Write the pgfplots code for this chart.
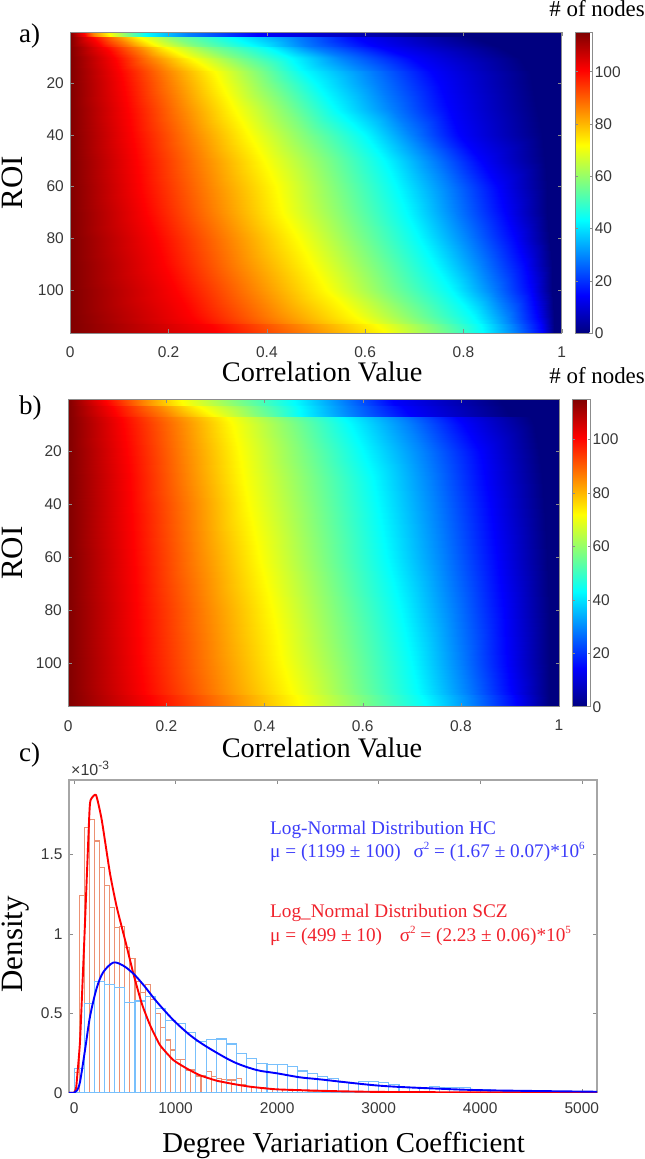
\documentclass[border=0pt]{standalone}
\usepackage{fontspec}
\setmainfont{Liberation Serif}
\newfontfamily\sansf{Liberation Sans}
\usepackage{pgfplots}
\pgfplotsset{compat=1.18}
\usepackage{pgfplotstable}
\definecolor{axgray}{gray}{0.55}
\definecolor{ticktext}{gray}{0.22}
\definecolor{histred}{RGB}{236,145,115}
\definecolor{histblue}{RGB}{120,192,252}
\definecolor{annblue}{RGB}{60,60,250}
\definecolor{annred}{RGB}{240,35,45}
\newcommand{\tickf}{\sansf\fontsize{15.5}{18}\selectfont}
\newcommand{\labf}{\fontsize{28.3}{32}\selectfont}
\newcommand{\ylabf}{\fontsize{31}{34}\selectfont}
\newcommand{\supn}[1]{\raisebox{0.42em}{\fontsize{11}{12}\selectfont #1}}
\pgfplotstableread{
x y v
0 0.5 115
.027 0.5 100.6
.047 0.5 86
.078 0.5 72
.115 0.5 57.5
.155 0.5 43
.24 0.5 28.75
.38 0.5 14.4
.72 0.5 0
1 0.5 0
0 2.2 115
.03 2.2 100.6
.05 2.2 86
.08 2.2 72
.117 2.2 57.5
.157 2.2 43
.24 2.2 28.75
.38 2.2 14.4
.72 2.2 0
1 2.2 0
0 2.4 115
.045 2.4 100.6
.09 2.4 86
.14 2.4 72
.21 2.4 57.5
.33 2.4 43
.46 2.4 28.75
.58 2.4 14.4
.82 2.4 0
1 2.4 0
0 6 115
.065 6 100.6
.125 6 86
.18 6 72
.26 6 57.5
.38 6 43
.48 6 28.75
.62 6 14.4
.87 6 0
1 6 0
0 6.2 115
.07 6.2 100.6
.135 6.2 86
.195 6.2 72
.28 6.2 57.5
.40 6.2 43
.49 6.2 28.75
.63 6.2 14.4
.875 6.2 0
1 6.2 0
0 10 115
.088 10 100.6
.16 10 86
.235 10 72
.33 10 57.5
.445 10 43
.55 10 28.75
.69 10 14.4
.91 10 0
1 10 0
0 10.2 115
.09 10.2 100.6
.165 10.2 86
.245 10.2 72
.34 10.2 57.5
.45 10.2 43
.555 10.2 28.75
.695 10.2 14.4
.915 10.2 0
1 10.2 0
0 15 115
.1 15 100.6
.19 15 86
.285 15 72
.38 15 57.5
.47 15 43
.60 15 28.75
.73 15 14.4
.93 15 0
1 15 0
0 15.5 115
.102 15.5 100.6
.195 15.5 86
.292 15.5 72
.385 15.5 57.5
.475 15.5 43
.61 15.5 28.75
.735 15.5 14.4
.935 15.5 0
1 15.5 0
0 20 115
.108 20 100.6
.205 20 86
.305 20 72
.40 20 57.5
.50 20 43
.625 20 28.75
.75 20 14.4
.94 20 0
1 20 0
0 30 115
.118 30 100.6
.225 30 86
.333 30 72
.44 30 57.5
.54 30 43
.655 30 28.75
.77 30 14.4
.95 30 0
1 30 0
0 40 115
.125 40 100.6
.245 40 86
.363 40 72
.48 40 57.5
.60 40 43
.695 40 28.75
.79 40 14.4
.96 40 0
1 40 0
0 50 115
.135 50 100.6
.265 50 86
.394 50 72
.52 50 57.5
.64 50 43
.74 50 28.75
.835 50 14.4
.965 50 0
1 50 0
0 60 115
.142 60 100.6
.28 60 86
.418 60 72
.54 60 57.5
.665 60 43
.77 60 28.75
.87 60 14.4
.97 60 0
1 60 0
0 70 115
.155 70 100.6
.295 70 86
.43 70 72
.56 70 57.5
.685 70 43
.785 70 28.75
.885 70 14.4
.97 70 0
1 70 0
0 80 115
.175 80 100.6
.32 80 86
.462 80 72
.585 80 57.5
.71 80 43
.81 80 28.75
.905 80 14.4
.975 80 0
1 80 0
0 90 115
.19 90 100.6
.34 90 86
.49 90 72
.615 90 57.5
.74 90 43
.835 90 28.75
.925 90 14.4
.98 90 0
1 90 0
0 100 115
.215 100 100.6
.37 100 86
.52 100 72
.645 100 57.5
.775 100 43
.86 100 28.75
.937 100 14.4
.98 100 0
1 100 0
0 110 115
.245 110 100.6
.41 110 86
.577 110 72
.70 110 57.5
.82 110 43
.89 110 28.75
.95 110 14.4
.985 110 0
1 110 0
0 112.5 115
.262 112.5 100.6
.43 112.5 86
.60 112.5 72
.72 112.5 57.5
.83 112.5 43
.895 112.5 28.75
.955 112.5 14.4
.985 112.5 0
1 112.5 0
0 113 115
.285 113 100.6
.46 113 86
.62 113 72
.735 113 57.5
.835 113 43
.90 113 28.75
.958 113 14.4
.985 113 0
1 113 0
0 116.5 115
.30 116.5 100.6
.48 116.5 86
.64 116.5 72
.75 116.5 57.5
.84 116.5 43
.905 116.5 28.75
.96 116.5 14.4
.985 116.5 0
1 116.5 0
}\tableA
\pgfplotstableread{
x y v
0 0.5 115
.075 0.5 100.6
.15 0.5 86
.228 0.5 72
.34 0.5 57.5
.46 0.5 43
.56 0.5 28.75
.66 0.5 14.4
.88 0.5 0
1 0.5 0
0 3 115
.08 3 100.6
.155 3 86
.235 3 72
.35 3 57.5
.465 3 43
.565 3 28.75
.665 3 14.4
.885 3 0
1 3 0
0 3.2 115
.09 3.2 100.6
.18 3.2 86
.265 3.2 72
.37 3.2 57.5
.47 3.2 43
.57 3.2 28.75
.68 3.2 14.4
.89 3.2 0
1 3.2 0
0 7 115
.10 7 100.6
.205 7 86
.30 7 72
.39 7 57.5
.475 7 43
.58 7 28.75
.70 7 14.4
.90 7 0
1 7 0
0 7.3 115
.108 7.3 100.6
.215 7.3 86
.323 7.3 72
.44 7.3 57.5
.56 7.3 43
.68 7.3 28.75
.79 7.3 14.4
.94 7.3 0
1 7.3 0
0 10 115
.112 10 100.6
.225 10 86
.333 10 72
.455 10 57.5
.575 10 43
.695 10 28.75
.805 10 14.4
.95 10 0
1 10 0
0 20 115
.119 20 100.6
.233 20 86
.347 20 72
.475 20 57.5
.60 20 43
.725 20 28.75
.84 20 14.4
.96 20 0
1 20 0
0 30 115
.125 30 100.6
.24 30 86
.357 30 72
.49 30 57.5
.62 30 43
.74 30 28.75
.85 30 14.4
.965 30 0
1 30 0
0 40 115
.128 40 100.6
.25 40 86
.367 40 72
.50 40 57.5
.632 40 43
.75 40 28.75
.86 40 14.4
.97 40 0
1 40 0
0 60 115
.133 60 100.6
.26 60 86
.388 60 72
.52 60 57.5
.65 60 43
.765 60 28.75
.873 60 14.4
.975 60 0
1 60 0
0 80 115
.14 80 100.6
.278 80 86
.415 80 72
.545 80 57.5
.677 80 43
.785 80 28.75
.887 80 14.4
.98 80 0
1 80 0
0 100 115
.146 100 100.6
.29 100 86
.435 100 72
.57 100 57.5
.70 100 43
.80 100 28.75
.894 100 14.4
.98 100 0
1 100 0
0 112 115
.155 112 100.6
.305 112 86
.455 112 72
.585 112 57.5
.715 112 43
.815 112 28.75
.905 112 14.4
.98 112 0
1 112 0
0 112.2 115
.165 112.2 100.6
.32 112.2 86
.465 112.2 72
.595 112.2 57.5
.72 112.2 43
.82 112.2 28.75
.91 112.2 14.4
.98 112.2 0
1 112.2 0
0 116.5 115
.173 116.5 100.6
.325 116.5 86
.473 116.5 72
.60 116.5 57.5
.73 116.5 43
.825 116.5 28.75
.914 116.5 14.4
.98 116.5 0
1 116.5 0
}\tableB
\pgfplotsset{
  /pgf/number format/assume math mode=true,
  heat/.style={
    scale only axis, y dir=reverse, xmin=0, xmax=1, ymin=0.5, ymax=116.5,
    xtick={0,0.2,0.4,0.6,0.8,1}, ytick={20,40,60,80,100},
    xticklabels={0,0.2,0.4,0.6,0.8,1},
    tick align=inside, major tick length=3.5pt, tick style={color=axgray, thin},
    axis line style={color=axgray, line width=0.7pt},
    tick label style={font=\tickf, text=ticktext},
    xticklabel style={yshift=-10pt}, yticklabel style={xshift=-3pt},
    xlabel={Correlation Value}, ylabel={ROI},
    xlabel style={font=\labf}, ylabel style={font=\ylabf},
    axis on top, colormap/jet, point meta min=0, point meta max=115,
    colorbar,
  },
  cbstyle/.style={
    width=17.3pt, at={(parent axis.north east)}, anchor=north west, xshift=#1,
    ytick={0,20,40,60,80,100},
    tick align=inside, major tick length=2.5pt,
    tick style={color=axgray, thin},
    axis line style={color=axgray, line width=0.6pt},
    yticklabel style={font=\tickf, text=ticktext, xshift=-1pt},
  },
}
\begin{document}
\begin{tikzpicture}
\path[use as bounding box] (0pt,0pt) rectangle (645pt,1159pt);

\begin{axis}[heat, at={(70.3pt,826pt)}, anchor=south west, width=491.4pt, height=300.5pt,
  xlabel style={at={(axis description cs:0.5126,-0.13)}, anchor=center},
  ylabel style={at={(axis description cs:-0.1176,0.5)}, anchor=center, rotate=0, inner sep=0pt},
  colorbar style={cbstyle=4.8pt}]
\addplot[surf, shader=interp, mesh/cols=10, mesh/ordering=x varies, point meta=\thisrow{v}] table[x=x,y=y] {\tableA};
\end{axis}

\begin{axis}[heat, at={(68.3pt,452.3pt)}, anchor=south west, width=490.7pt, height=307.4pt,
  xlabel style={at={(axis description cs:0.517,-0.134)}, anchor=center},
  ylabel style={at={(axis description cs:-0.1137,0.5)}, anchor=center, rotate=0, inner sep=0pt},
  colorbar style={cbstyle=5.2pt}]
\addplot[surf, shader=interp, mesh/cols=10, mesh/ordering=x varies, point meta=\thisrow{v}] table[x=x,y=y] {\tableB};
\end{axis}

\begin{axis}[scale only axis, at={(69pt,66.3pt)}, anchor=south west, width=528pt, height=312.7pt,
  xmin=-50, xmax=5150, ymin=0, ymax=1.97,
  xtick={0,1000,2000,3000,4000,5000}, ytick={0,0.5,1,1.5},
  yticklabels={0,0.5,1,1.5},
  /pgf/number format/1000 sep={}, scaled ticks=false,
  tick align=inside, major tick length=4pt, tick style={color=axgray, thin},
  axis line style={color=gray!70, line width=1.1pt},
  tick label style={font=\tickf, text=ticktext},
  xticklabel style={yshift=-6pt}, yticklabel style={xshift=-3pt},
  xlabel={Degree Variariation Coefficient}, ylabel={Density},
  xlabel style={font=\fontsize{28.8}{32}\selectfont, at={(axis description cs:0.52,-0.168)}, anchor=center},
  ylabel style={font=\ylabf, at={(axis description cs:-0.1008,0.475)}, anchor=center, rotate=0, inner sep=0pt},
  clip=true]
\addplot[ybar interval, draw=histred, line width=1.1pt, fill=none] coordinates {
(0,.13)(50,1.24)(100,1.67)(150,1.72)(200,1.586)(250,1.418)(300,1.304)(350,1.166)(400,1.042)(450,1.045)
(500,.916)(550,.847)(600,.70)(650,.63)(700,.679)(750,.588)(800,.50)(850,.41)(900,.332)(950,.269)
(1000,.21)(1050,.21)(1100,.143)(1150,.143)(1200,.105)(1250,.105)(1300,.132)(1350,.10)(1400,.09)(1450,.085)
(1500,.08)(1550,.08)(1600,.09)(1650,.05)(1700,.04)(1750,.035)(1800,.03)(1850,.03)(1900,.025)(1950,.02)
(2000,.02)(2050,.02)(2100,.015)(2150,.015)(2200,.012)(2250,.012)(2300,.01)(2350,.01)(2400,.008)(2450,.008)
(2500,.006)(2600,.006)(2800,.004)(3000,.003)(3500,.002)(4000,.001)(5150,.001)};
\addplot[ybar interval, draw=histblue, line width=1.1pt, fill=none] coordinates {
(0,.15)(100,.563)(200,.70)(300,.683)(400,.665)(500,.57)(600,.578)(700,.605)(800,.53)(900,.453)
(1000,.437)(1100,.378)(1200,.32)(1300,.335)(1400,.338)(1500,.307)(1600,.248)(1700,.216)(1800,.185)(1900,.175)
(2000,.178)(2100,.164)(2200,.137)(2300,.12)(2400,.10)(2500,.092)(2600,.065)(2700,.06)(2800,.073)(2900,.07)
(3000,.063)(3100,.05)(3200,.035)(3300,.03)(3400,.03)(3500,.04)(3600,.03)(3700,.033)(3800,.03)(3900,.02)
(4000,.02)(4100,.012)(4200,.01)(4300,.01)(4400,.008)(4500,.007)(4600,.007)(4700,.006)(4800,.005)(4900,.005)(5000,.004)(5150,.004)};
\addplot[red, line width=1.9pt, line join=round, smooth, tension=0.3] coordinates {
(-50,0)(0,0)(20,.03)(33,.12)(59,.33)(100,.95)(150,1.75)(164,1.845)(216,1.876)(272,1.72)(354,1.38)(420,1.17)(511,.94)(584,.75)(666,.563)(748,.426)(846,.30)(977,.206)(1108,.153)(1239,.11)(1403,.076)(1567,.055)(1731,.038)(2000,.021)(2550,.01)(3000,.005)(4000,.002)(5150,.001)};
\addplot[blue, line width=1.9pt, line join=round, smooth, tension=0.5] coordinates {
(-50,0)(0,0)(30,.015)(59,.07)(108,.27)(157,.48)(223,.66)(288,.76)(387,.82)(485,.80)(584,.75)(682,.68)(813,.574)(977,.458)(1141,.363)(1305,.29)(1567,.195)(1797,.143)(2000,.122)(2223,.097)(2421,.084)(3012,.044)(3602,.025)(4080,.015)(5150,.006)};
\end{axis}

\node[anchor=base west, inner sep=0pt, font=\fontsize{27}{30}\selectfont] at (19pt,1116pt) {a)};
\node[anchor=base west, inner sep=0pt, font=\fontsize{27}{30}\selectfont] at (19pt,744pt) {b)};
\node[anchor=base west, inner sep=0pt, font=\fontsize{27}{30}\selectfont] at (19pt,397pt) {c)};
\node[anchor=base east, inner sep=0pt, font=\fontsize{22.9}{26}\selectfont] at (645pt,1142pt) {\# of nodes};
\node[anchor=base east, inner sep=0pt, font=\fontsize{22.9}{26}\selectfont] at (645pt,775pt) {\# of nodes};
\node[anchor=base west, inner sep=0pt, text=ticktext, font=\sansf\fontsize{16}{18}\selectfont] at (71pt,383pt) {×10\raisebox{0.4em}{\fontsize{12}{14}\selectfont -3}};

\node[anchor=base west, inner sep=0pt, text=annblue, font=\fontsize{19.25}{22}\selectfont] at (270pt,324pt) {Log-Normal Distribution HC};
\node[anchor=base west, inner sep=0pt, text=annblue, font=\fontsize{19.25}{22}\selectfont] at (270pt,301pt) {μ = (1199 ± 100)\ \ \,σ\supn{2} = (1.67 ± 0.07)*10\supn{6}};
\node[anchor=base west, inner sep=0pt, text=annred, font=\fontsize{19.25}{22}\selectfont] at (270pt,241pt) {Log\_Normal Distribution SCZ};
\node[anchor=base west, inner sep=0pt, text=annred, font=\fontsize{19.25}{22}\selectfont] at (270pt,217pt) {μ = (499 ± 10)\ \ \ \,σ\supn{2} = (2.23 ± 0.06)*10\supn{5}};
\end{tikzpicture}
\end{document}
